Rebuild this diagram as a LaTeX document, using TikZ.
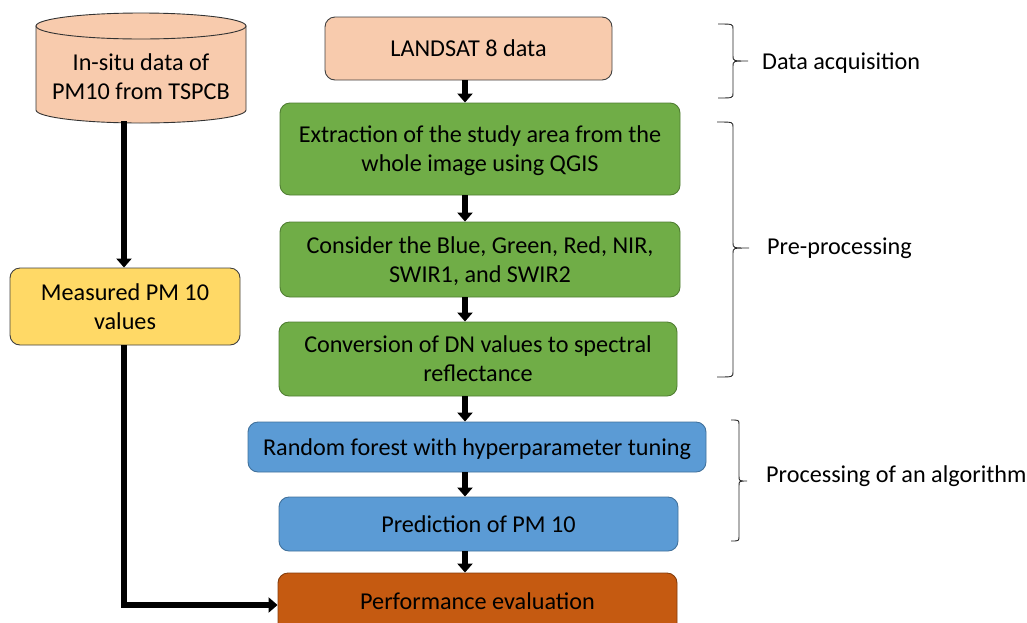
\documentclass[tikz,border=0pt]{standalone}
\usepackage{fontspec}
\setmainfont{Carlito}
\usetikzlibrary{arrows.meta}
\definecolor{peach}{HTML}{F8CBAD}
\definecolor{gfill}{HTML}{70AD47}
\definecolor{gdraw}{HTML}{507E32}
\definecolor{yfill}{HTML}{FFD966}
\definecolor{bfill}{HTML}{5B9BD5}
\definecolor{bdraw}{HTML}{41719C}
\definecolor{ofill}{HTML}{C55A11}
\definecolor{odraw}{HTML}{843C0C}
\newcommand{\mybrace}[6]{%
  \draw[brc] (#1,#4) .. controls (#2,#4) .. (#2,#4+5) -- (#2,#5-5)
    .. controls (#2,#5) .. (#3,#5) .. controls (#2,#5) .. (#2,#5+5)
    -- (#2,#6-5) .. controls (#2,#6) .. (#1,#6);}
\begin{document}
\begin{tikzpicture}[x=1pt,y=-1pt,
  every node/.style={font=\fontsize{24.2}{29}\selectfont, align=center, inner sep=0pt, text depth=0pt},
  box/.style={rectangle, rounded corners=10pt, line width=0.9pt},
  arr/.style={line width=5.5pt, -{Triangle[width=15pt,length=9pt]}},
  brc/.style={line width=0.9pt, black!85},
  lbl/.style={anchor=west}]
\useasboundingbox (0,0) rectangle (1027,622);
\clip (0,0) rectangle (1027,622);
% cylinder
\draw[line width=0.9pt, black!80, fill=peach] (36,26) -- (36,110) arc[start angle=180,end angle=360,x radius=105pt,y radius=13pt] -- (246,26) -- cycle;
\draw[line width=0.9pt, black!80, fill=peach] (141,26) ellipse[x radius=105pt,y radius=13pt];
\node (cyl) at (141,77) {In-situ data of\\PM10 from TSPCB};
\coordinate (cylb) at (124,121);
% left column
\node[box, draw=black!75, fill=yfill, minimum width=230pt, minimum height=77pt] (meas) at (125,306.5) {Measured PM 10\\values};
% right column
\node[box, draw=black!75, fill=peach, minimum width=287pt, minimum height=63pt] (land) at (468.5,48.5) {LANDSAT 8 data};
\node[box, draw=gdraw, fill=gfill, minimum width=400pt, minimum height=92pt] (extr) at (480,149) {Extraction of the study area from the\\whole image using QGIS};
\node[box, draw=gdraw, fill=gfill, minimum width=400pt, minimum height=75pt] (cons) at (480,259.5) {Consider the Blue, Green, Red, NIR,\\SWIR1, and SWIR2};
\node[box, draw=gdraw, fill=gfill, minimum width=398pt, minimum height=74pt] (conv) at (478,359) {Conversion of DN values to spectral\\reflectance};
\node[box, draw=bdraw, fill=bfill, minimum width=458pt, minimum height=50pt] (rf) at (477,447) {Random forest with hyperparameter tuning};
\node[box, draw=bdraw, fill=bfill, minimum width=399pt, minimum height=54pt] (pred) at (478.5,524) {Prediction of PM 10};
\node[box, draw=odraw, fill=ofill, minimum width=399pt, minimum height=64pt] (perf) at (477.5,605) {};
\node (perft) at (477.5,601) {Performance evaluation};
% arrows
\coordinate (ax) at (465,0);
\draw[arr] (cylb) -- (meas.north -| cylb);
\draw[arr] (land.south -| ax) -- (extr.north -| ax);
\draw[arr] (extr.south -| ax) -- (cons.north -| ax);
\draw[arr] (cons.south -| ax) -- (conv.north -| ax);
\draw[arr] (conv.south -| ax) -- (rf.north -| ax);
\draw[arr] (rf.south -| ax) -- (pred.north -| ax);
\draw[arr] (pred.south -| ax) -- (perf.north -| ax);
\draw[arr] (meas.south -| cylb) |- (perf.west);
% braces
\mybrace{718}{733}{748}{24}{61}{98}
\node[lbl] (l1) at (762,61) {Data acquisition};
\mybrace{717}{733}{749}{122}{248}{377}
\node[lbl] (l2) at (767,246) {Pre-processing};
\mybrace{731}{739}{747}{420}{481}{541}
\node[lbl] (l3) at (766,474) {Processing of an algorithm};
\end{tikzpicture}
\end{document}
